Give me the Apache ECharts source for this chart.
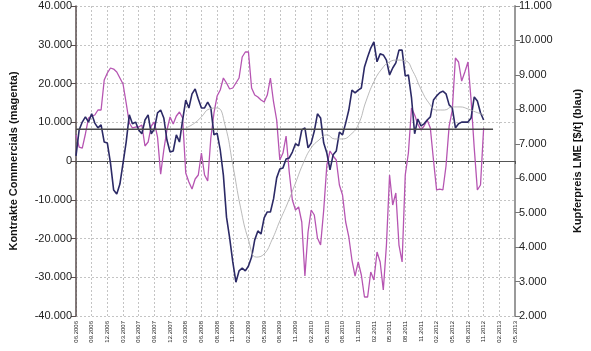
<!DOCTYPE html>
<html>
<head>
<meta charset="utf-8">
<script src="https://cdn.jsdelivr.net/npm/echarts@6/dist/echarts.min.js"></script>
<style>
  html, body { margin: 0; padding: 0; background: #fff; }
  #main { width: 591px; height: 351px; }
</style>
</head>
<body>
<div id="main"></div>
<script>
// Tick labels of the date axis (one every ~3 months)
const xLabels = ['06.2006', '09.2006', '12.2006', '03.2007', '06.2007', '09.2007', '12.2007',
  '03.2008', '06.2008', '08.2008', '11.2008', '02.2009', '05.2009', '08.2009', '11.2009',
  '02.2010', '05.2010', '08.2010', '11.2010', '02.2011', '05.2011', '08.2011', '11.2011',
  '02.2012', '05.2012', '08.2012', '11.2012', '02.2013', '05.2013']

// both weekly-ish series are sampled every 0.2 tick intervals, starting at 06.2006
const step = 0.2

// Kontrakte Commercials (linke Achse)
const commercials = [
  6710, 3610, 3350, 6970, 11100, 11610, 11870, 13160, 13160, 20900,
  22710, 24000, 23740, 22970, 21420, 19870, 14970, 9810, 8520, 8770,
  8770, 9290, 3870, 4900, 9030, 10060, 6190, -3400, 2840, 8000,
  11350, 9550, 11610, 12650, 11100, -3100, -5420, -7230, -4650, -3610,
  2060, -3610, -5160, 5940, 12390, 16770, 18320, 21420, 20130, 18580,
  18840, 20130, 21420, 26840, 28130, 28130, 18840, 17030, 16520, 15740,
  15230, 17030, 21420, 15230, 10580, 260, 2060, 6450, -2840, -10060,
  -12650, -11870, -15740, -29680, -18320, -12650, -13940, -19870, -21680, -12650,
  -1030, 2580, 1290, 260, -6190, -8770, -15740, -19610, -25550, -29680,
  -26060, -29420, -35100, -35100, -28640, -30710, -23480, -26060, -33290, -21680,
  -3610, -11350, -8260, -21680, -26060, -3610, 2060, 13680, 11870, 9550,
  8000, 9030, 10580, 8520, 260, -7480, -7230, -7480, -1290, 9030,
  13160, 26580, 25550, 20640, 22970, 25550, 15740, 3350, -7480, -6190,
  8520
]

// Kupferpreis LME $/t (rechte Achse)
const copper = [
  6650, 7400, 7630, 7780, 7630, 7870, 7600, 7460, 7550, 7050,
  7020, 6440, 5660, 5540, 5830, 6440, 7050, 7840, 7580, 7630,
  7400, 7290, 7690, 7840, 7290, 7430, 7900, 7980, 7750, 7110,
  6760, 6790, 7260, 7050, 7690, 8270, 8040, 8450, 8590, 8300,
  8040, 8040, 8210, 8040, 7260, 7310, 6820, 6090, 4870, 4270,
  3570, 2980, 3310, 3390, 3310, 3450, 3710, 4210, 4470, 4380,
  4850, 5020, 5020, 5400, 6010, 6270, 6300, 6560, 6590, 6760,
  7000, 6940, 7400, 7460, 6880, 7020, 7370, 7870, 7750, 7020,
  6730, 6240, 6680, 6790, 7340, 7260, 7600, 7980, 8560, 8480,
  8560, 8620, 9230, 9520, 9780, 9960, 9380, 9610, 9580, 9430,
  9000, 9200, 9350, 9720, 9720, 8970, 9000, 8330, 7290, 7720,
  7520, 7580, 7690, 7780, 8270, 8390, 8480, 8530, 8450, 8130,
  8040, 7460, 7580, 7630, 7630, 7630, 7750, 8360, 8240, 7900,
  7690
]

// gleitender Durchschnitt Kupferpreis, starts at tick 7, one value per half interval
const avgStart = 7
const avgStep = 0.5
const copperAvg = [
  7460, 7580, 7780, 8010, 8040, 7550, 6390, 5140, 4210, 3710,
  3800, 4210, 4760, 5280, 5860, 6440, 6880, 7110, 7260, 7140,
  7140, 7260, 7550, 8240, 8800, 9170, 9380, 9430, 9410, 9090,
  8590, 8190, 7980, 7980, 8070, 8070, 8010, 7920, 7840
]

// horizontal reference line (left axis)
const refLevel = 8200
const refEnd = 26.6

function deNum(v) {
  const s = String(Math.abs(v)).replace(/\B(?=(\d{3})+(?!\d))/g, '.')
  return (v < 0 ? '-' : '') + s
}

const font = 'Liberation Sans, Arial, sans-serif'

let myChart = echarts.init(document.getElementById('main'))
myChart.setOption({
  animation: false,
  grid: { left: 66, right: 63, top: 6, bottom: 35 },
  xAxis: {
    type: 'value',
    min: 0,
    max: 28,
    interval: 1,
    axisLine: { lineStyle: { color: '#555', width: 1 } },
    axisTick: { length: 3, lineStyle: { color: '#555' } },
    axisLabel: {
      rotate: 90,
      fontSize: 6,
      fontFamily: font,
      color: '#222',
      margin: 5,
      formatter: (v) => xLabels[Math.round(v)] || ''
    },
    splitLine: { show: true, lineStyle: { color: '#c4c4c4', type: [2, 2], width: 1 } }
  },
  yAxis: [
    {
      type: 'value',
      min: -40000,
      max: 40000,
      interval: 10000,
      name: 'Kontrakte Commercials (magenta)',
      nameLocation: 'middle',
      nameRotate: 90,
      nameGap: 57,
      nameTextStyle: { fontSize: 11, fontWeight: 'bold', fontFamily: font, color: '#111' },
      axisLine: { show: true, lineStyle: { color: '#5a4e4e', width: 1.5 } },
      axisTick: { show: true, length: 5, lineStyle: { color: '#5a4e4e' } },
      axisLabel: { fontSize: 11, fontFamily: font, color: '#222', margin: 4, formatter: deNum },
      splitLine: { show: true, lineStyle: { color: '#c4c4c4', type: [2, 2], width: 1 } }
    },
    {
      type: 'value',
      position: 'right',
      min: 2000,
      max: 11000,
      interval: 1000,
      name: 'Kupferpreis LME [$/t] (blau)',
      nameLocation: 'middle',
      nameRotate: 90,
      nameGap: 57,
      nameTextStyle: { fontSize: 11, fontWeight: 'bold', fontFamily: font, color: '#111' },
      axisLine: { show: true, lineStyle: { color: '#9a9a9a', width: 2 } },
      axisTick: { show: true, length: 5, lineStyle: { color: '#777' } },
      axisLabel: { fontSize: 11, fontFamily: font, color: '#222', margin: 4, formatter: deNum },
      splitLine: { show: false }
    }
  ],
  series: [
    {
      name: 'Commercials',
      type: 'line',
      yAxisIndex: 0,
      showSymbol: false,
      lineStyle: { color: '#b655b2', width: 1.3 },
      data: commercials.map((v, i) => [i * step, v])
    },
    {
      name: 'Kupfer',
      type: 'line',
      yAxisIndex: 1,
      showSymbol: false,
      lineStyle: { color: '#2c2a66', width: 1.6 },
      data: copper.map((v, i) => [i * step, v])
    },
    {
      name: 'Durchschnitt',
      type: 'line',
      yAxisIndex: 1,
      showSymbol: false,
      smooth: true,
      lineStyle: { color: '#a8a8a8', width: 0.8 },
      data: copperAvg.map((v, i) => [avgStart + i * avgStep, v])
    },
    {
      name: 'Referenz',
      type: 'line',
      yAxisIndex: 0,
      showSymbol: false,
      lineStyle: { color: '#4a4a4a', width: 1.6 },
      data: [[0, refLevel], [refEnd, refLevel]]
    }
  ]
})
</script>
</body>
</html>
